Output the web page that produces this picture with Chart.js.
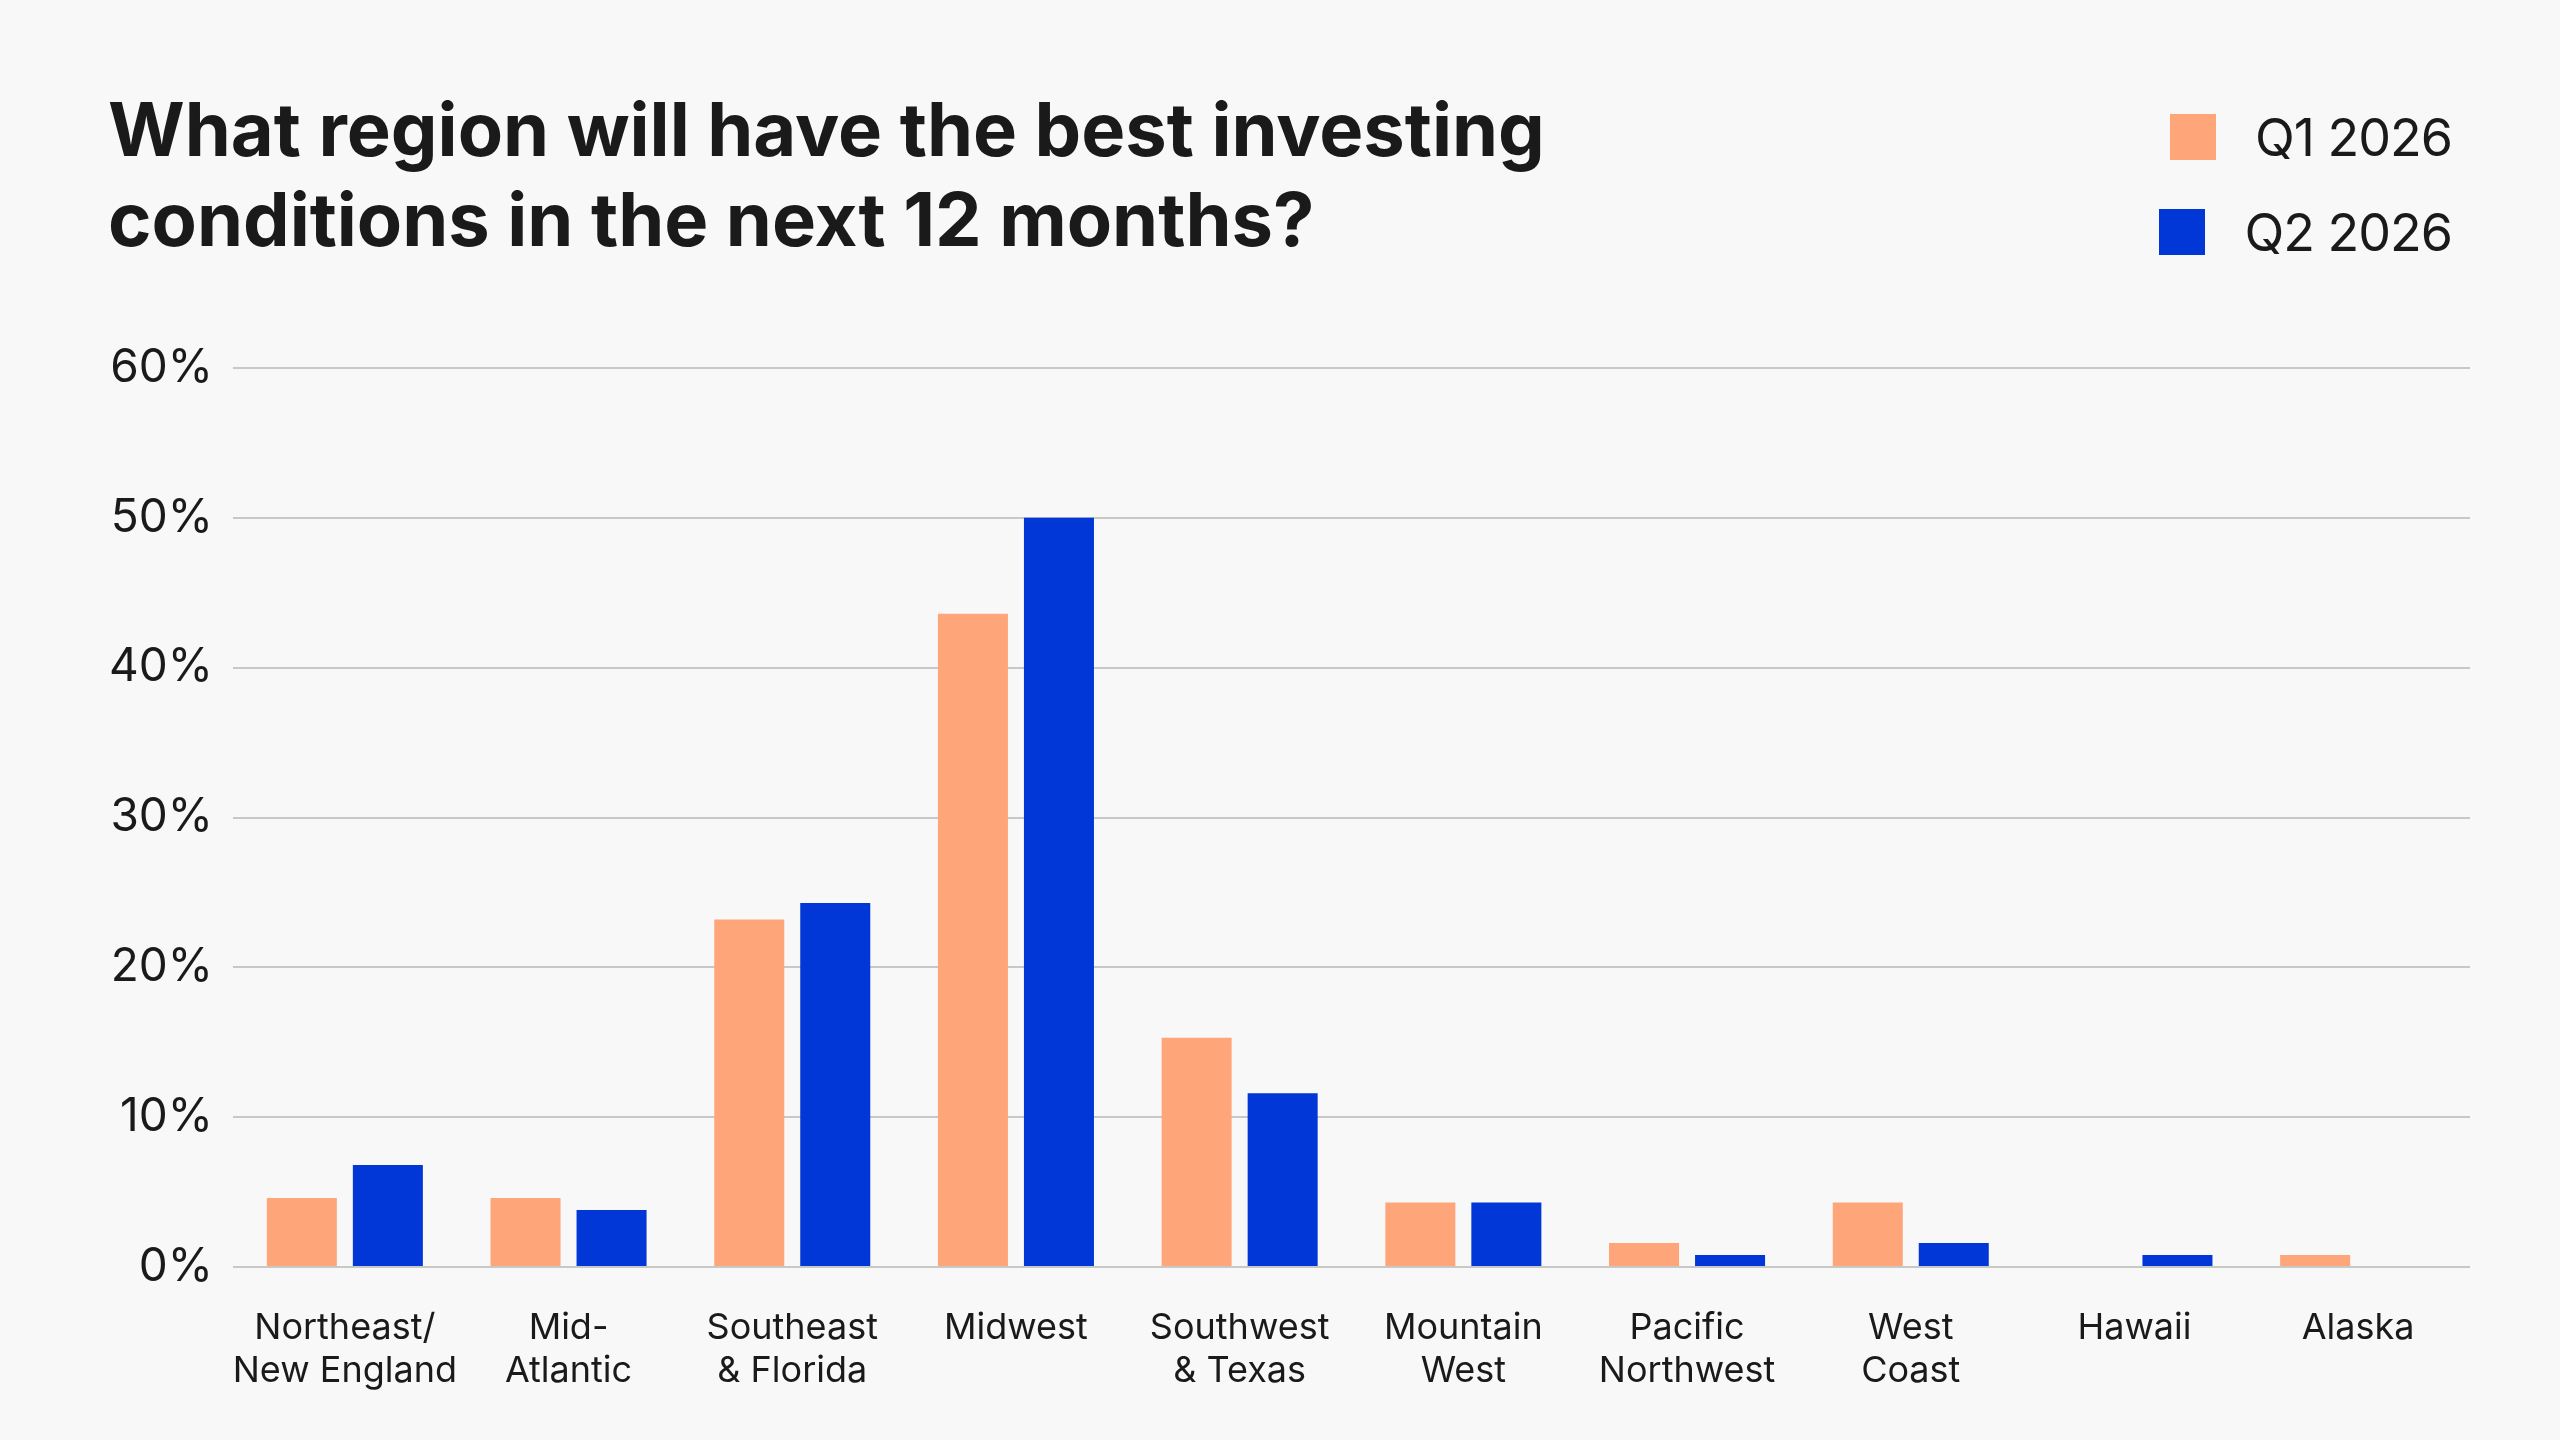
<!doctype html>
<html>
<head>
    <title>Best investing region</title>
    <script src="https://cdn.jsdelivr.net/npm/chart.js@4.4.1/dist/chart.umd.min.js"></script>
    <style>
        html, body {
            margin: 0;
            padding: 0;
            background: #f8f8f8;
        }

        .chart-con {
            position: relative;
            width: 2560px;
            height: 1440px;
        }

        .legend-con {
            position: absolute;
            right: 108px;
            top: 113px;
            font-family: Inter, sans-serif;
            color: #1a1a1a;
            font-size: 52px;
            letter-spacing: -1px;
        }

        .legend-con ul {
            list-style: none;
            margin: 0;
            padding: 0;
        }

        .legend-con li {
            display: flex;
            align-items: center;
            justify-content: flex-end;
            height: 48px;
            margin-bottom: 47px;
        }

        span.chart-legend {
            display: inline-block;
            width: 46px;
            height: 46px;
            margin-right: 39px;
        }
    </style>
</head>

<body>

<div class="chart-con">
    <canvas id="chart-area" width="2560" height="1440"></canvas>
    <div id="my-legend-con" class="legend-con"></div>
</div>

<script>
    var regions = [
        ['Northeast/', 'New England'],
        ['Mid-', 'Atlantic'],
        ['Southeast', '& Florida'],
        'Midwest',
        ['Southwest', '& Texas'],
        ['Mountain', 'West'],
        ['Pacific', 'Northwest'],
        ['West', 'Coast'],
        'Hawaii',
        'Alaska'
    ];
    var q1Values = [4.6, 4.6, 23.2, 43.6, 15.3, 4.3, 1.6, 4.3, 0, 0.8];
    var q2Values = [6.8, 3.8, 24.3, 50.0, 11.6, 4.3, 0.8, 1.6, 0.8, 0];
    var seriesNames = ['Q1 2026', 'Q2 2026'];
    var seriesColors = ['#ffa57a', '#0037d6'];
    var yTicks = [0, 10, 20, 30, 40, 50, 60];

    var textColor = '#1a1a1a';
    var fontName = 'Inter, "Noto Sans", sans-serif';

    var config = {
        type: 'bar',
        data: {
            labels: regions,
            datasets: [{
                label: seriesNames[0],
                data: q1Values,
                backgroundColor: seriesColors[0],
                borderWidth: 0
            }, {
                label: seriesNames[1],
                data: q2Values,
                backgroundColor: seriesColors[1],
                borderWidth: 0
            }]
        },
        options: {
            responsive: false,
            animation: false,
            categoryPercentage: 0.769,
            barPercentage: 0.814,
            layout: {
                padding: {
                    left: 108,
                    right: 90,
                    top: 89,
                    bottom: 15
                }
            },
            plugins: {
                legend: false,
                tooltip: false,
                title: {
                    display: true,
                    align: 'start',
                    text: ['What region will have the best investing', 'conditions in the next 12 months?'],
                    color: textColor,
                    font: {
                        family: fontName,
                        size: 74,
                        weight: 'bold',
                        lineHeight: 90 / 74
                    },
                    padding: {
                        top: 0,
                        bottom: 99
                    }
                }
            },
            scales: {
                x: {
                    grid: {
                        display: false
                    },
                    border: {
                        display: false
                    },
                    ticks: {
                        color: textColor,
                        padding: 32,
                        maxRotation: 0,
                        autoSkip: false,
                        font: {
                            family: fontName,
                            size: 36,
                            lineHeight: 43 / 36
                        }
                    }
                },
                y: {
                    min: yTicks[0],
                    max: yTicks[yTicks.length - 1],
                    afterFit: function(scale) {
                        scale.width = 125;
                    },
                    afterBuildTicks: function(scale) {
                        scale.ticks = yTicks.map(function(v) { return { value: v }; });
                    },
                    grid: {
                        color: '#c8c8c6',
                        lineWidth: 2,
                        drawTicks: false
                    },
                    border: {
                        display: false
                    },
                    ticks: {
                        color: textColor,
                        padding: 20,
                        font: {
                            family: fontName,
                            size: 46
                        },
                        callback: function(value) {
                            return value + '%';
                        }
                    }
                }
            }
        }
    };

    window.onload = function() {
        var ctx = document.getElementById('chart-area').getContext('2d');
        window.myBar = new Chart(ctx, config);

        var legendHtml = ['<ul>'];
        for (var i = 0; i < seriesNames.length; i++) {
            legendHtml.push('<li>');
            legendHtml.push('<span class="chart-legend" style="background-color:' + seriesColors[i] + '"></span>');
            legendHtml.push('<span>' + seriesNames[i] + '</span>');
            legendHtml.push('</li>');
        }
        legendHtml.push('</ul>');
        document.getElementById('my-legend-con').innerHTML = legendHtml.join('');
    };
</script>
</body>
</html>
